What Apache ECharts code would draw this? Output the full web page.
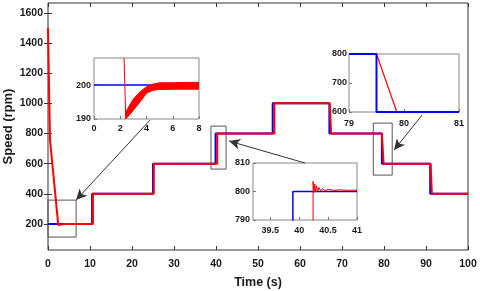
<!DOCTYPE html>
<html><head><meta charset="utf-8">
<script src="https://cdn.jsdelivr.net/npm/echarts@6/dist/echarts.min.js"></script>
<style>html,body{margin:0;padding:0;background:#fff}#c{width:480px;height:291px}</style>
</head><body><div id="c"></div>
<script>
// ---------- data ----------
const mainYTicks = [200, 400, 600, 800, 1000, 1200, 1400, 1600];
// reference speed (blue) [time, rpm]
const refMain = [[0,200],[10.5,200],[10.5,400],[25,400],[25,600],[39.9,600],[39.9,800],[53.5,800],[53.5,1000],[67,1000],[67,800],[79.5,800],[79.5,600],[91,600],[91,400],[100,400]];
// measured speed (red) [time, rpm]
const actMain = [[0,1500],[0.3,1020],[0.48,756],[1.1,579],[2.45,192],[3,196],[4,200],[10.7,200],[10.7,400],[25.2,400],[25.2,600],[40.3,600],[40.3,800],[53.9,800],[53.9,1000],[67.1,1000],[67.4,800],[79.5,800],[79.9,600],[91.1,600],[91.4,400],[100,400]];
// zoom boxes on main plot [t0, v0, t1, v1]
const boxes = [[0,113,6.7,358],[38.8,564,42.4,849],[77.45,524,81.95,869]];
// arrows [fromT, fromV, toT, toV]
const arrows = [[24.3,889,6.67,358],[61.2,604,43.1,750],[89.05,922,82.4,690]];

// inset 1 (t 0..8, 190..208)
const in1Ref = [[0,200],[8,200]];
const in1Drop = [[2.29,208],[2.42,190]];
const in1T   = [2.42, 2.7, 3.0, 3.5, 4.0, 4.5, 5.0, 6.0, 7.0, 8.0];
const in1Low = [190, 191.2, 192.6, 195, 197.6, 198.5, 198.7, 198.8, 198.8, 198.8];
const in1Up  = [192, 194, 195.9, 198, 199.5, 200.3, 200.7, 200.7, 200.8, 200.8];

// inset 2 (t 39.2..41, 790..810)
const in2XLabels = [39.5, 40, 40.5, 41];
const in2Ref = [[39.2,600],[39.89,600],[39.89,800],[41,800]];
const in2Act = [[39.2,600],[40.23,600],[40.24,803.6],[40.255,799.6],[40.27,802.6],[40.285,800],[40.30,802],[40.32,800.1],[40.34,801.4],[40.37,800.2],[40.40,801],[40.45,800.3],[40.5,800.8],[40.6,800.4],[40.7,800.6],[40.85,800.4],[41,800.5]];

// inset 3 (t 79..81, 600..800)
const in3Ref = [[79,800],[79.5,800],[79.5,600],[81,600]];
const in3Act = [[79,800],[79.5,800],[79.87,600],[81,600]];

// ---------- chart ----------
const FONT = 'Liberation Sans, Arial, Helvetica, sans-serif';
const TXT = '#1a1a1a';
const BLUE = '#0000ff', RED = '#ff0000';
const fmt = v => String(v);
const lbl = (size, margin, extra) => Object.assign({fontFamily: FONT, fontWeight: 'bold', fontSize: size, color: TXT, margin: margin, formatter: fmt, hideOverlap: false}, extra || {});

const chart = echarts.init(document.getElementById('c'), null, {renderer: 'canvas'});

function insetAxes(gi, xo, yo) {
  return {
    x: Object.assign({type: 'value', gridIndex: gi, splitLine: {show: false},
      axisLine: {show: false}, axisTick: {show: true, inside: true, length: 3, lineStyle: {color: '#777'}}}, xo),
    y: Object.assign({type: 'value', gridIndex: gi, splitLine: {show: false},
      axisLine: {show: false}, axisTick: {show: true, inside: true, length: 3, lineStyle: {color: '#777'}}}, yo)
  };
}
const a1 = insetAxes(1,
  {min: 0, max: 8, interval: 2, axisLabel: lbl(9, 5)},
  {min: 190, max: 208, axisLabel: lbl(9, 3, {customValues: [190, 200]}), axisTick: {inside: true, length: 3, customValues: [190, 200], lineStyle: {color: '#777'}}});
const a2 = insetAxes(2,
  {min: 39.2, max: 41, axisLabel: lbl(9, 6, {customValues: in2XLabels}), axisTick: {inside: true, length: 3, customValues: in2XLabels, lineStyle: {color: '#777'}}},
  {min: 790, max: 810, interval: 10, axisLabel: lbl(9, 3)});
const a3 = insetAxes(3,
  {min: 79, max: 81, interval: 1, axisLabel: lbl(9, 7)},
  {min: 600, max: 800, interval: 100, axisLabel: lbl(9, 2)});

const gridBase = {outerBoundsMode: 'none', containLabel: false, show: true, borderWidth: 1};

const option = {
  animation: false,
  backgroundColor: '#fff',
  grid: [
    Object.assign({left: 48, top: 3, width: 420, height: 247, borderColor: '#333', backgroundColor: 'transparent'}, gridBase),
    Object.assign({left: 94, top: 58, width: 105, height: 61, borderColor: '#888', backgroundColor: '#fff'}, gridBase),
    Object.assign({left: 253, top: 163, width: 104, height: 57, borderColor: '#888', backgroundColor: '#fff'}, gridBase),
    Object.assign({left: 349, top: 54, width: 110, height: 58, borderColor: '#888', backgroundColor: '#fff'}, gridBase)
  ],
  xAxis: [
    {type: 'value', gridIndex: 0, min: 0, max: 100, interval: 10, splitLine: {show: false},
     axisLine: {show: false}, axisTick: {inside: true, length: 4, lineStyle: {color: '#333'}},
     axisLabel: lbl(10.5, 9),
     name: 'Time (s)', nameLocation: 'middle', nameGap: 26,
     nameTextStyle: {fontFamily: FONT, fontWeight: 'bold', fontSize: 12.5, color: TXT}},
    {type: 'value', gridIndex: 0, position: 'top', min: 0, max: 100, interval: 10, splitLine: {show: false},
     axisLine: {show: false}, axisTick: {inside: true, length: 4, lineStyle: {color: '#333'}}, axisLabel: {show: false}},
    a1.x, a2.x, a3.x
  ],
  yAxis: [
    {type: 'value', gridIndex: 0, min: 27, max: 1666, splitLine: {show: false},
     axisLine: {show: false},
     axisTick: {inside: true, length: 4, customValues: mainYTicks, lineStyle: {color: '#333'}},
     axisLabel: lbl(10.5, 5, {customValues: mainYTicks}),
     name: 'Speed (rpm)', nameLocation: 'middle', nameGap: 33, nameMoveOverlap: false,
     nameTextStyle: {fontFamily: FONT, fontWeight: 'bold', fontSize: 13, color: TXT}},
    {type: 'value', gridIndex: 0, position: 'right', min: 27, max: 1666, splitLine: {show: false},
     axisLine: {show: false},
     axisTick: {inside: true, length: 4, customValues: mainYTicks, lineStyle: {color: '#333'}},
     axisLabel: {show: false}},
    a1.y, a2.y, a3.y
  ],
  series: [
    {type: 'line', xAxisIndex: 0, yAxisIndex: 0, data: refMain, showSymbol: false, symbol: 'none',
     lineStyle: {color: BLUE, width: 2}, z: 2,
     markArea: {silent: true, itemStyle: {color: 'rgba(0,0,0,0)', borderColor: '#555', borderWidth: 1},
       data: boxes.map(b => [{coord: [b[0], b[1]]}, {coord: [b[2], b[3]]}])},
     markLine: {silent: true, symbol: ['none', 'arrow'], symbolSize: [8, 11], label: {show: false},
       lineStyle: {color: '#333', width: 1, type: 'solid'}, emphasis: {disabled: true},
       data: arrows.map(a => [{coord: [a[0], a[1]]}, {coord: [a[2], a[3]]}])}},
    {type: 'line', xAxisIndex: 0, yAxisIndex: 0, data: actMain, showSymbol: false, symbol: 'none',
     lineStyle: {color: RED, width: 2}, z: 3},

    // inset 1
    {type: 'line', xAxisIndex: 2, yAxisIndex: 2, data: in1Ref, symbol: 'none', lineStyle: {color: BLUE, width: 1.5}, z: 2},
    {type: 'line', xAxisIndex: 2, yAxisIndex: 2, data: in1Drop, symbol: 'none', lineStyle: {color: RED, width: 1}, z: 3},
    {type: 'custom', xAxisIndex: 2, yAxisIndex: 2, z: 3, clip: true,
     data: in1T.map((t, i) => [t, in1Low[i], in1Up[i]]),
     encode: {x: 0, y: [1, 2]},
     renderItem: function (params, api) {
       if (params.dataIndex !== 0) return null;
       const upper = in1T.map((t, i) => api.coord([t, in1Up[i]]));
       const lower = in1T.map((t, i) => api.coord([t, in1Low[i]])).reverse();
       return {type: 'polygon', shape: {points: upper.concat(lower)},
               style: {fill: RED, stroke: RED, lineWidth: 1}};
     }},

    // inset 2
    {type: 'line', xAxisIndex: 3, yAxisIndex: 3, data: in2Ref, symbol: 'none', lineStyle: {color: BLUE, width: 1.5}, z: 2},
    {type: 'line', xAxisIndex: 3, yAxisIndex: 3, data: in2Act, symbol: 'none', lineStyle: {color: RED, width: 1}, z: 3},

    // inset 3
    {type: 'line', xAxisIndex: 4, yAxisIndex: 4, data: in3Act, symbol: 'none', lineStyle: {color: RED, width: 1.2}, z: 2},
    {type: 'line', xAxisIndex: 4, yAxisIndex: 4, data: in3Ref, symbol: 'none', lineStyle: {color: BLUE, width: 2}, z: 3}
  ]
};
chart.setOption(option);
</script>
</body></html>
